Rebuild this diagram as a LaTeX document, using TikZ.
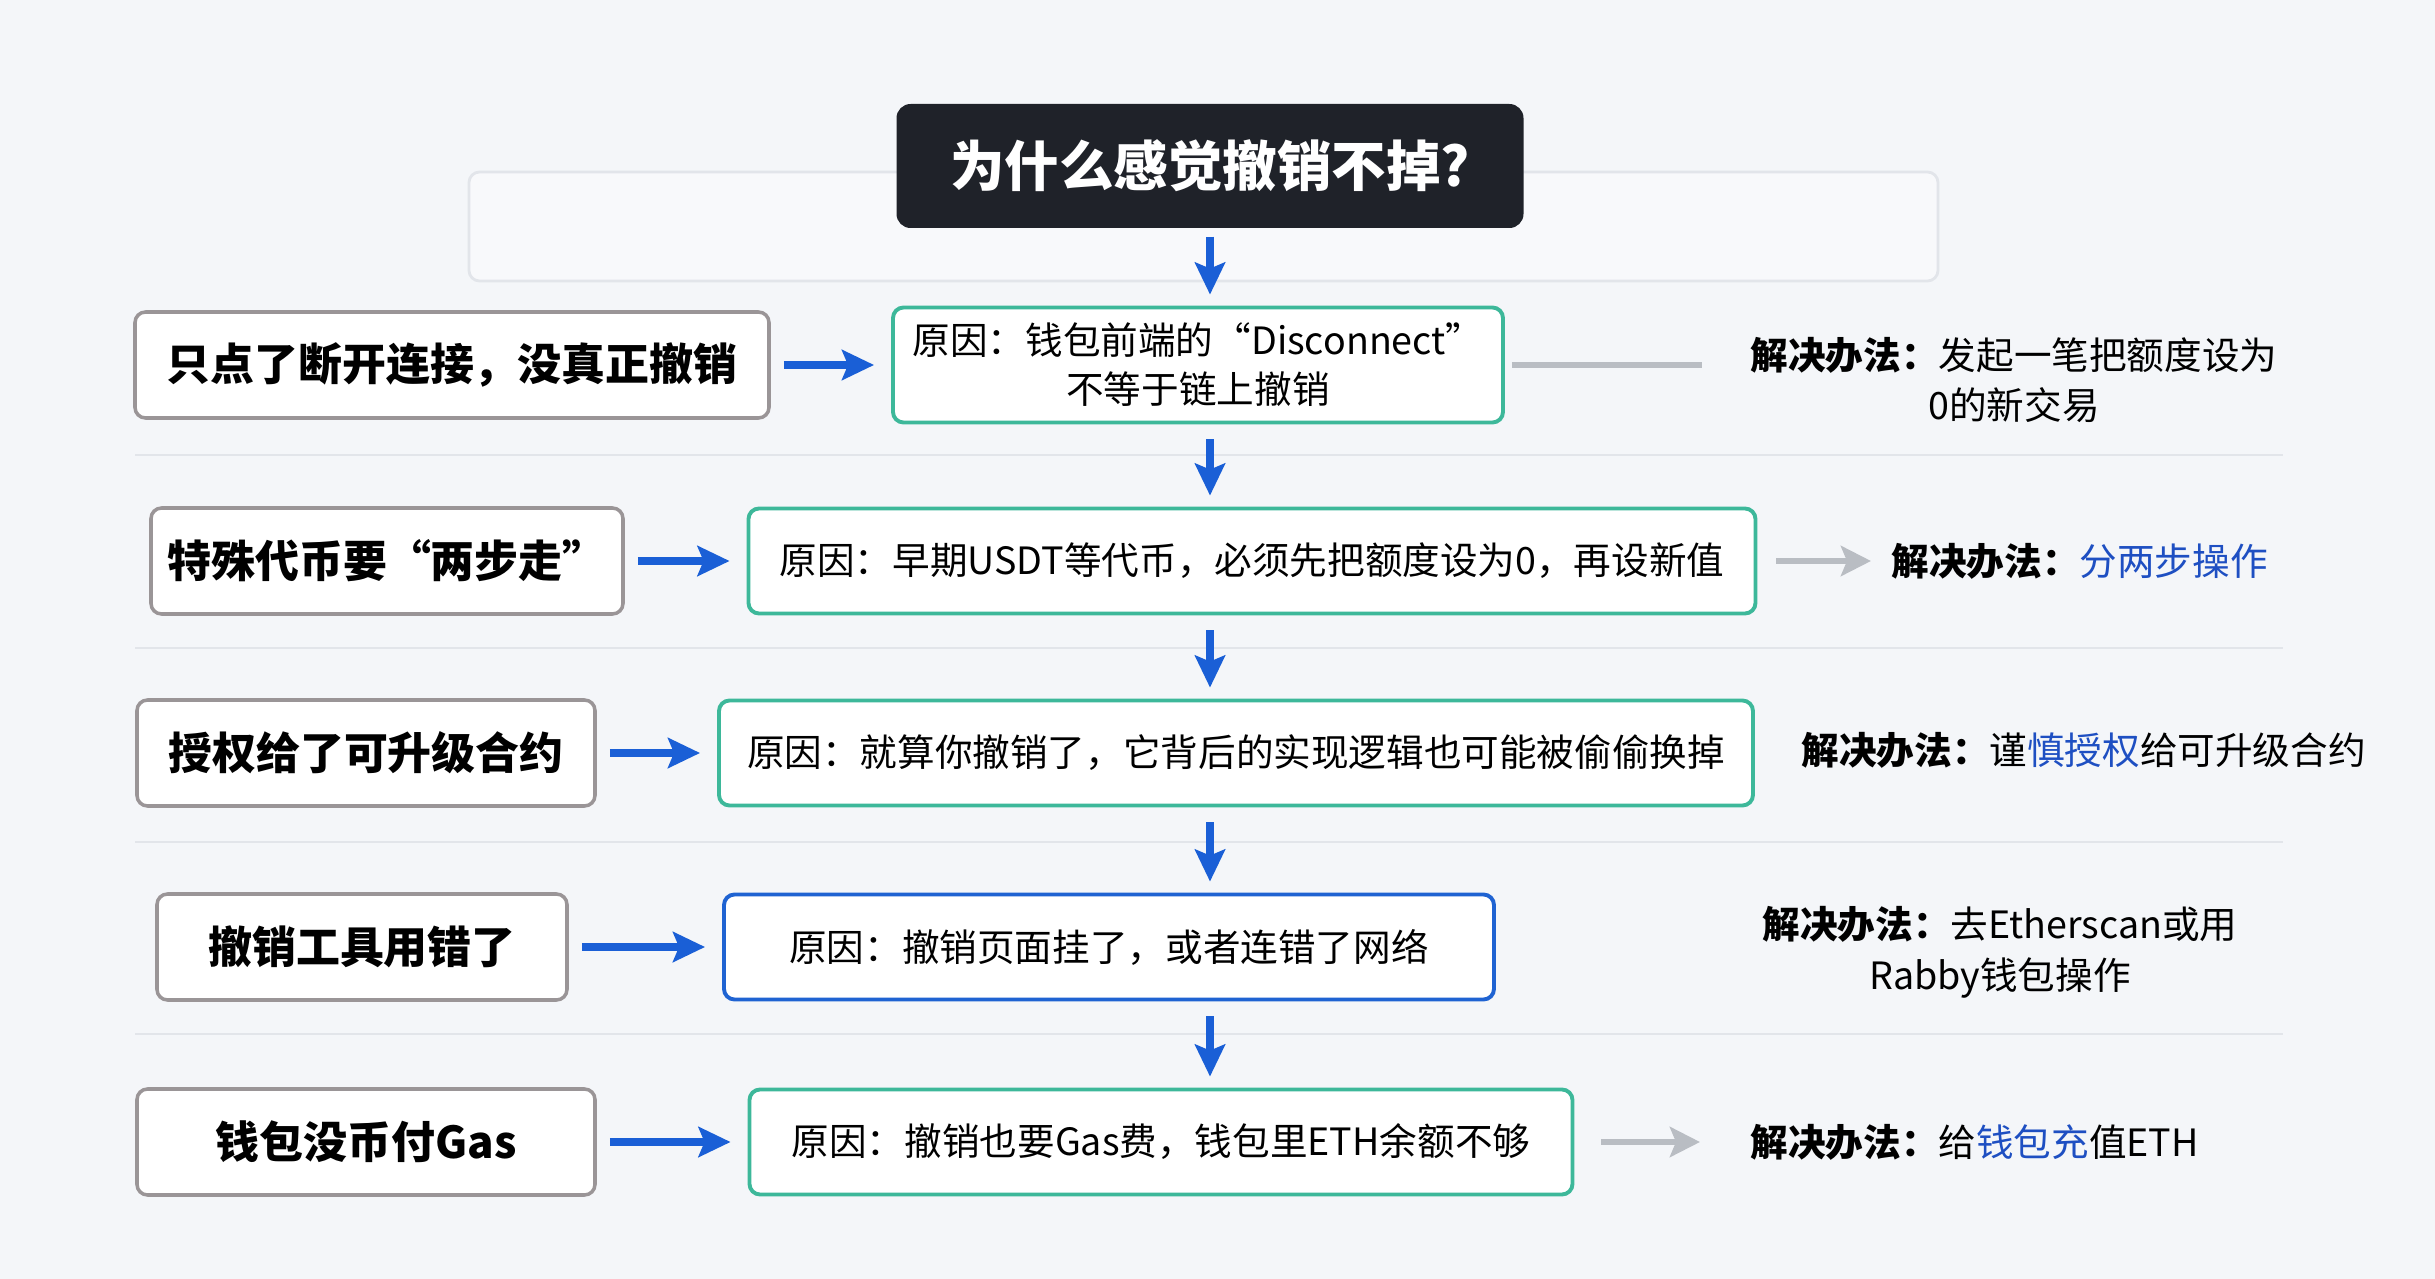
\documentclass[tikz,border=0pt]{standalone}
\usepackage{fontspec}
\setmainfont{Noto Sans CJK SC}
\usetikzlibrary{arrows.meta}
\definecolor{pagebg}{HTML}{F4F6F9}
\definecolor{titlebg}{HTML}{1F2229}
\definecolor{flowblue}{HTML}{1A5FD6}
\definecolor{causeteal}{HTML}{3DB89A}
\definecolor{causeblue}{HTML}{1F63D2}
\definecolor{hlblue}{HTML}{1E4FC2}
\definecolor{hintgray}{HTML}{B9BDC3}
\definecolor{boxgray}{HTML}{9A9597}
\definecolor{rulegray}{HTML}{E2E5EA}
\begin{document}
\begin{tikzpicture}[
    problem/.style={rectangle, draw=boxgray, line width=1pt, rounded corners=3pt,
      fill=white, minimum height=1.06cm, text=black,
      font=\fontsize{12.5}{15}\selectfont\bfseries},
    cause/.style={rectangle, draw=causeteal, line width=1.1pt, rounded corners=3pt,
      fill=white, minimum height=1.05cm, align=center,
      font=\fontsize{10.7}{14}\selectfont},
    fix/.style={inner sep=0pt, align=center, font=\fontsize{10.7}{14.5}\selectfont},
    flow/.style={-{Stealth[length=3.2mm, width=3mm, inset=0.6mm]},
      line width=2pt, draw=flowblue},
    hint/.style={line width=1.7pt, draw=hintgray},
    rule/.style={draw=rulegray, line width=0.6pt}
  ]
  \fill[pagebg] (0,0) rectangle (24.35,-12.79);
  \useasboundingbox (0,0) rectangle (24.35,-12.79);
  \draw[rulegray, line width=0.8pt, rounded corners=3pt, fill=white, fill opacity=0.4]
  (4.69,-1.72) rectangle (19.38,-2.81);
  \foreach \y in {-4.55,-6.48,-8.42,-10.34}
  {\draw[rule] (1.35,\y) -- (22.83,\y);}

  \node[fill=titlebg, rounded corners=4pt, minimum width=6.27cm, minimum height=1.24cm,
    text=white, font=\fontsize{15.5}{18}\selectfont\bfseries] (title) at (12.10,-1.66)
  {为什么感觉撤销不掉?};

  \node[problem, minimum width=6.34cm] (p1) at (4.52,-3.65) {只点了断开连接，没真正撤销};
  \node[problem, minimum width=4.72cm] (p2) at (3.87,-5.61) {特殊代币要“两步走”};
  \node[problem, minimum width=4.58cm] (p3) at (3.66,-7.53) {授权给了可升级合约};
  \node[problem, minimum width=4.10cm] (p4) at (3.62,-9.47) {撤销工具用错了};
  \node[problem, minimum width=4.58cm] (p5) at (3.66,-11.42) {钱包没币付Gas};

  \node[cause, minimum width=6.10cm, minimum height=1.15cm] (c1) at (11.98,-3.65)
  {原因：钱包前端的“Disconnect”\\不等于链上撤销};
  \node[cause, minimum width=10.07cm] (c2) at (12.52,-5.61)
  {原因：早期USDT等代币，必须先把额度设为0，再设新值};
  \node[cause, minimum width=10.34cm] (c3) at (12.36,-7.53)
  {原因：就算你撤销了，它背后的实现逻辑也可能被偷偷换掉};
  \node[cause, draw=causeblue, minimum width=7.70cm] (c4) at (11.09,-9.47)
  {原因：撤销页面挂了，或者连错了网络};
  \node[cause, minimum width=8.23cm] (c5) at (11.61,-11.42)
  {原因：撤销也要Gas费，钱包里ETH余额不够};

  \node[fix] (s1) at (20.14,-3.80)
  {\textbf{解决办法：}发起一笔把额度设为\\0的新交易};
  \node[fix, anchor=west] (s2) at (18.91,-5.61)
  {\textbf{解决办法：}\textcolor{hlblue}{分两步操作}};
  \node[fix, anchor=west] (s3) at (18.01,-7.50)
  {\textbf{解决办法：}谨\textcolor{hlblue}{慎授权}给可升级合约};
  \node[fix] (s4) at (20.00,-9.52)
  {\textbf{解决办法：}去Etherscan或用\\Rabby钱包操作};
  \node[fix, anchor=west] (s5) at (17.50,-11.42)
  {\textbf{解决办法：}给\textcolor{hlblue}{钱包充}值ETH};

  \draw[flow, shorten <=0.08cm, shorten >=0.11cm] (title.south) -- (title.south |- c1.north);
  \foreach \a/\b in {c1/c2,c2/c3,c3/c4,c4/c5}
  {\draw[flow, shorten <=0.15cm, shorten >=0.11cm] (title.south |- \a.south) -- (title.south |- \b.north);}
  \foreach \a/\b in {p1/c1,p2/c2,p3/c3,p4/c4,p5/c5}
  {\draw[flow, shorten <=0.13cm, shorten >=0.17cm] (\a) -- (\b);}

  \draw[hint, shorten <=0.07cm, shorten >=0.48cm] (c1.east) -- (c1.east -| s1.west);
  \draw[hint, -{Stealth[length=3mm, width=3mm, inset=0.6mm]},
    shorten <=0.19cm, shorten >=0.20cm] (c2) -- (s2);
  \draw[hint, -{Stealth[length=3mm, width=3mm, inset=0.6mm]},
    shorten <=0.27cm, shorten >=0.50cm] (c5) -- (s5);
\end{tikzpicture}
\end{document}
